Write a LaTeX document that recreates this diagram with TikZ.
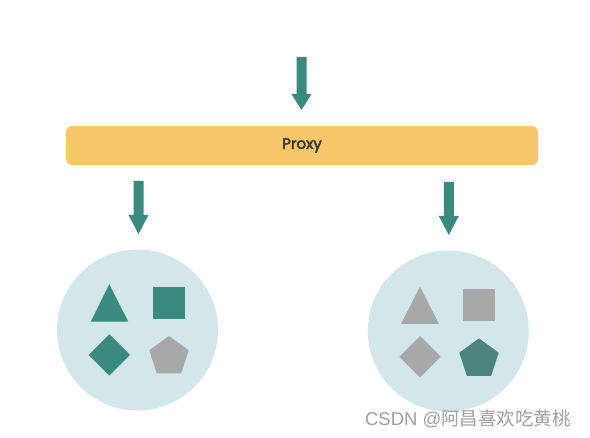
\documentclass[tikz,border=0pt]{standalone}
\usepackage{fontspec}
\usetikzlibrary{shapes.geometric}
\newfontfamily\popp[FakeBold=3]{Poppins}
\newfontfamily\cjk{Noto Sans CJK SC}
\newfontfamily\lat{Liberation Sans}
\definecolor{teal1}{HTML}{3A8A7E}
\definecolor{teal2}{HTML}{4A857D}
\definecolor{gray1}{HTML}{A7A9A9}
\definecolor{circ}{HTML}{D3E6E9}
\definecolor{proxyc}{HTML}{F7C768}
\definecolor{txt}{HTML}{3A3632}
\definecolor{wm}{HTML}{A0A0A0}
\tikzset{
  arrowshape/.style={fill=teal1, draw=none},
  pool/.style={circle, fill=circ, draw=none, minimum size=161pt, inner sep=0pt},
  pent/.style={regular polygon, regular polygon sides=5, draw=none, inner sep=0pt, minimum size=41.4pt},
  proxybar/.style={fill=proxyc, draw=none, rounded corners=6pt, minimum width=472pt, minimum height=39pt, inner sep=0pt, font=\popp\fontsize{15}{17}\selectfont, text=txt},
}
\begin{document}
\begin{tikzpicture}[x=1pt,y=-1pt]
\useasboundingbox (0,0) rectangle (590,438);
\fill[white] (0,0) rectangle (590,438);
% top arrow
\fill[arrowshape] (296.5,57) -- (306.5,57) -- (306.5,94) -- (311.5,94) -- (301.5,110) -- (291.5,94) -- (296.5,94) -- cycle;
% proxy
\node[proxybar] (proxy) at (302,145.5) {Proxy};
% left arrow
\fill[arrowshape] (133.5,181) -- (143.5,181) -- (143.5,215) -- (148.5,215) -- (138.5,234) -- (128.5,215) -- (133.5,215) -- cycle;
% right arrow
\fill[arrowshape] (443.8,182) -- (453.8,182) -- (453.8,216) -- (458.8,216) -- (448.8,235) -- (438.8,216) -- (443.8,216) -- cycle;
% pools
\node[pool] (left) at (137.5,330) {};
\node[pool] (right) at (448.3,331) {};
% left shapes
\fill[teal1] (109.3,284.3) -- (128.3,321.7) -- (90.7,321.7) -- cycle;
\fill[teal1] (153.3,287.3) rectangle (185,319);
\fill[teal1] (109.3,334.3) -- (130,355) -- (109.3,375.7) -- (88.6,355) -- cycle;
\node[pent, fill=gray1] (lpent) at (169,356.7) {};
% right shapes
\fill[gray1] (420,286.7) -- (439,324) -- (401,324) -- cycle;
\fill[gray1] (463.3,289.3) rectangle (495,321);
\fill[gray1] (420,336) -- (440.7,356.7) -- (420,377.4) -- (399.3,356.7) -- cycle;
\node[pent, fill=teal2] (rpent) at (479,359.1) {};
% watermark
\node[font=\fontsize{18.5}{20}\selectfont, text=wm, inner sep=0pt] (wm) at (468,419) {{\lat CSDN @}{\cjk 阿昌喜欢吃黄桃}};
\end{tikzpicture}
\end{document}
